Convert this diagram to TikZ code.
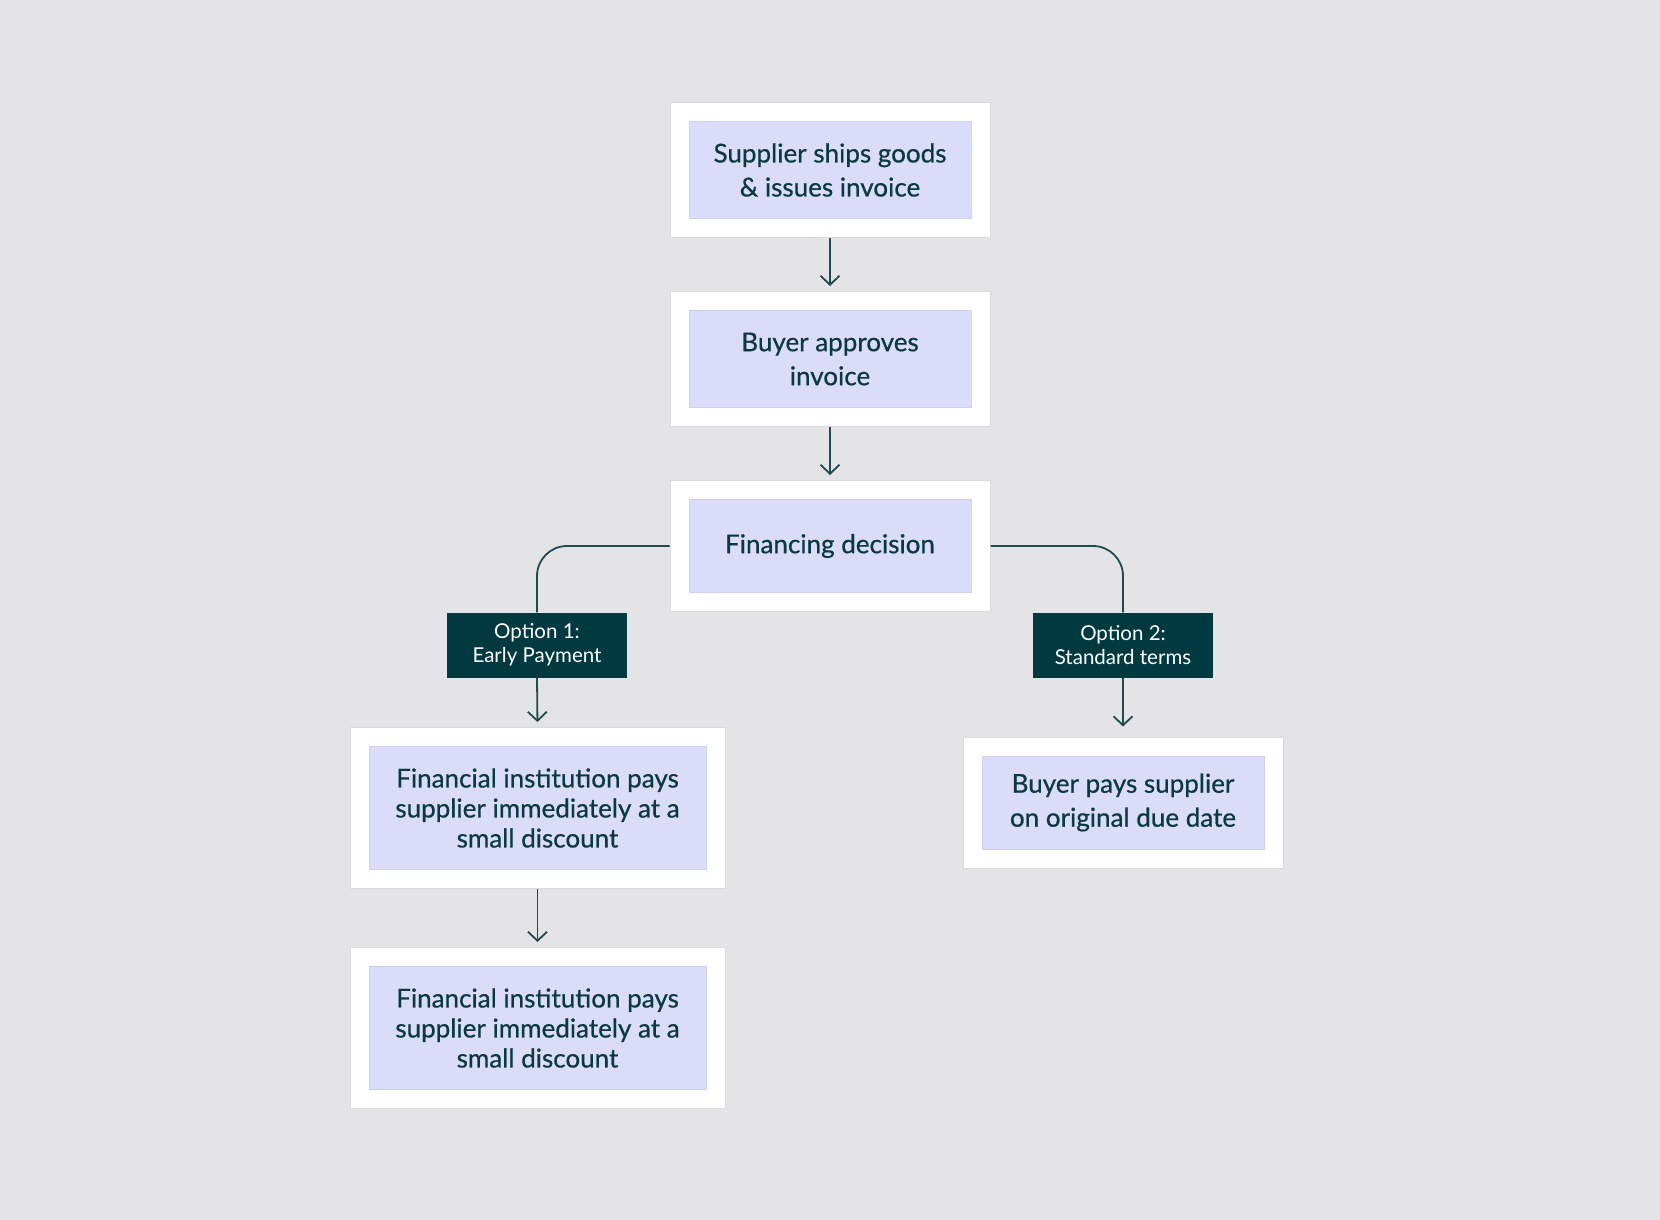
\documentclass[tikz,border=0pt]{standalone}
\usepackage{fontspec}
\setmainfont{Lato}
\newfontfamily\cardfont{Lato}[FakeBold=0.6]
\usetikzlibrary{arrows.meta,backgrounds,fit}
\definecolor{canvas}{HTML}{E4E4E6}
\definecolor{lilac}{HTML}{DADCFA}
\definecolor{lilacline}{HTML}{CDD1F4}
\definecolor{frameline}{HTML}{D8DCDC}
\definecolor{ink}{HTML}{0A3A40}
\definecolor{tagfill}{HTML}{003A40}
\definecolor{wire}{HTML}{1F4A50}

\begin{document}
\begin{tikzpicture}[x=1pt,y=-1pt,
  card/.style={fill=lilac, draw=lilacline, line width=1pt, inner sep=0pt, outer sep=0pt,
    align=center, text=ink, font=\cardfont\fontsize{26}{34}\selectfont,
    minimum width=282pt, minimum height=97pt},
  wide/.style={minimum width=337pt, minimum height=123pt, font=\cardfont\fontsize{26}{30}\selectfont},
  frame/.style={fill=white, draw=frameline, line width=1pt, inner sep=19pt},
  tag/.style={fill=tagfill, text=white, inner sep=0pt, minimum width=180pt,
    minimum height=65pt, align=center, font=\fontsize{20.5}{24}\selectfont},
  link/.style={draw=wire, line width=1.8pt},
  flow/.style={link, -{Straight Barb[length=9pt,width=19pt]}, shorten >=5pt}]
\begin{scope}[on background layer]
\fill[canvas] (0,0) rectangle (1660,1220);
\end{scope}
\useasboundingbox (0,0) rectangle (1660,1220);

% steps
\node[card] (ship) at (830,170) {Supplier ships goods\\\& issues invoice};
\node[card] (approve) at (830,359) {Buyer approves\\invoice};
\node[card, minimum height=93pt] (decide) at (830,546) {Financing decision};
\node[card, wide] (early) at (537.5,808) {Financial institution pays\\supplier immediately at a\\small discount};
\node[card, wide] (early2) at (537.5,1028) {Financial institution pays\\supplier immediately at a\\small discount};
\node[card, minimum height=93pt] (standard) at (1123,802.5) {Buyer pays supplier\\on original due date};

% white frames behind the cards
\begin{scope}[on background layer]
\foreach \n in {ship,approve,decide,early,early2,standard}
  \node[frame, fit=(\n)] (\n-f) {};
\end{scope}

% options
\node[tag] (opt1) at (537,645) {Option 1:\\Early Payment};
\node[tag] (opt2) at (1123,645) {Option 2:\\Standard terms};

% connectors
\draw[flow] (ship-f.south) -- (approve-f.north);
\draw[flow] (approve-f.south) -- (decide-f.north);
\draw[link, rounded corners=30pt] (decide-f.west) -| (opt1.north);
\draw[link, rounded corners=30pt] (decide-f.east) -| (opt2.north);
\draw[flow] (opt1.south) -- (early-f.north);
\draw[flow, shorten >=10pt] (opt2.south) -- (standard-f.north);
\draw[flow] (early-f.south) -- (early2-f.north);
\end{tikzpicture}
\end{document}
